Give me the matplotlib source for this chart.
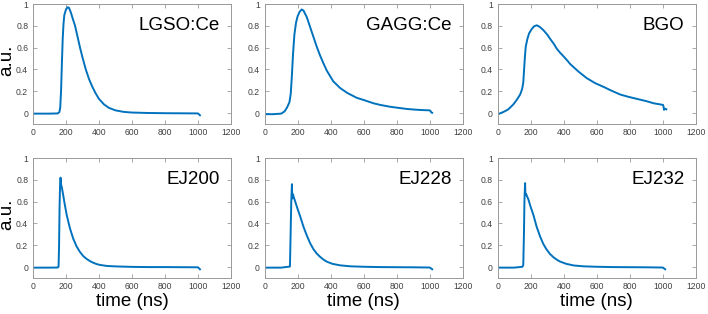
import matplotlib.pyplot as plt

plt.rcParams['font.family'] = ['Liberation Sans', 'DejaVu Sans']

# pulse shapes (time in ns, amplitude in a.u.)
lgso_t = [0, 50, 100, 150, 160, 165, 170, 175, 180, 185, 190, 200, 210, 218, 230, 240, 255, 270, 285,
          300, 320, 340, 360, 380, 400, 430, 460, 500, 550, 600, 700, 800, 900, 1000, 1005, 1012]
lgso_v = [-0.005, -0.005, -0.005, -0.003, 0.01, 0.05, 0.2, 0.45, 0.68, 0.82, 0.9, 0.95, 0.97, 0.965, 0.92,
          0.87, 0.8, 0.7, 0.6, 0.51, 0.4, 0.31, 0.24, 0.18, 0.13, 0.08, 0.048, 0.025, 0.011, 0.005, 0.001,
          -0.001, -0.002, -0.003, -0.01, -0.02]

gagg_t = [0, 50, 100, 120, 135, 150, 158, 165, 172, 180, 190, 200, 212, 224, 235, 255, 275, 295, 315,
          335, 355, 376, 396, 416, 437, 457, 500, 558, 600, 659, 700, 760, 800, 861, 900, 950, 1000,
          1005, 1010, 1015]
gagg_v = [-0.01, -0.01, -0.005, 0.015, 0.05, 0.1, 0.18, 0.35, 0.55, 0.72, 0.83, 0.89, 0.93, 0.95, 0.94,
          0.88, 0.79, 0.7, 0.61, 0.53, 0.46, 0.39, 0.34, 0.29, 0.26, 0.23, 0.185, 0.14, 0.12, 0.09, 0.075,
          0.058, 0.05, 0.038, 0.033, 0.028, 0.025, 0.018, 0.005, 0.003]

bgo_t = [0, 10, 34, 60, 75, 95, 115, 136, 148, 155, 160, 165, 170, 180, 190, 206, 220, 237, 255, 277,
         300, 318, 340, 358, 380, 399, 420, 439, 490, 540, 590, 642, 690, 743, 790, 844, 900, 945, 1002,
         1005, 1008, 1015, 1022]
bgo_v = [-0.01, -0.005, 0.01, 0.03, 0.05, 0.08, 0.12, 0.17, 0.22, 0.28, 0.4, 0.52, 0.61, 0.68, 0.73,
         0.77, 0.795, 0.805, 0.79, 0.76, 0.72, 0.68, 0.635, 0.59, 0.55, 0.52, 0.485, 0.45, 0.38, 0.32,
         0.275, 0.24, 0.205, 0.17, 0.15, 0.13, 0.11, 0.09, 0.075, 0.06, 0.03, 0.04, 0.035]

ej200_t = [0, 100, 150, 155, 158, 161, 164, 167, 170, 176, 183, 193, 204, 215, 225, 244, 264, 284, 305,
           325, 345, 365, 385, 405, 450, 506, 600, 700, 800, 900, 1000, 1005, 1012]
ej200_v = [-0.005, -0.005, -0.004, 0.005, 0.2, 0.55, 0.75, 0.82, 0.76, 0.72, 0.66, 0.57, 0.48, 0.41,
           0.35, 0.26, 0.19, 0.14, 0.1, 0.075, 0.055, 0.04, 0.028, 0.02, 0.01, 0.006, 0.002, 0.0, 0.0,
           -0.001, -0.002, -0.01, -0.02]

ej228_t = [0, 100, 153, 157, 161, 165, 167, 170, 185, 200, 214, 235, 255, 275, 295, 315, 335, 355, 376,
           410, 457, 520, 600, 700, 800, 900, 1000, 1008, 1015]
ej228_v = [-0.005, -0.005, 0.005, 0.3, 0.6, 0.76, 0.63, 0.67, 0.6, 0.53, 0.47, 0.37, 0.29, 0.22, 0.165,
           0.125, 0.095, 0.07, 0.05, 0.03, 0.016, 0.007, 0.003, 0.0, -0.001, -0.002, -0.004, -0.012, -0.02]

ej232_t = [0, 100, 150, 155, 159, 162, 166, 168, 172, 186, 200, 216, 236, 257, 277, 297, 317, 338, 358,
           379, 415, 460, 520, 600, 700, 800, 900, 1000, 1008, 1015]
ej232_v = [-0.005, -0.005, 0.003, 0.02, 0.3, 0.6, 0.77, 0.66, 0.67, 0.62, 0.55, 0.48, 0.37, 0.28, 0.21,
           0.16, 0.12, 0.09, 0.068, 0.05, 0.03, 0.015, 0.007, 0.003, 0.0, -0.001, -0.002, -0.004, -0.012, -0.02]

names = ['LGSO:Ce', 'GAGG:Ce', 'BGO', 'EJ200', 'EJ228', 'EJ232']
times = [lgso_t, gagg_t, bgo_t, ej200_t, ej228_t, ej232_t]
values = [lgso_v, gagg_v, bgo_v, ej200_v, ej228_v, ej232_v]

W, H = 708, 314
fig = plt.figure(figsize=(W / 100, H / 100), dpi=100)

lefts = [33, 264.7, 497.7]
tops = [4, 158]
ax_w, ax_h = 198, 120

for i in range(6):
    r, c = divmod(i, 3)
    ax = fig.add_axes([lefts[c] / W, 1 - (tops[r] + ax_h) / H, ax_w / W, ax_h / H])
    ax.plot(times[i], values[i], color='#0072BD', lw=1.4)
    ax.set_xlim(0, 1200)
    ax.set_ylim(-0.1, 1)
    ax.set_xticks(range(0, 1201, 200))
    ax.set_yticks([0, 0.2, 0.4, 0.6, 0.8, 1])
    ax.set_yticklabels(['0', '0.2', '0.4', '0.6', '0.8', '1'])
    ax.tick_params(direction='in', top=True, right=True, length=3, width=0.6,
                   labelsize=6.2, colors='#999999', labelcolor='#404040')
    ax.tick_params(axis='x', pad=3)
    ax.tick_params(axis='y', pad=3.5)
    for s in ax.spines.values():
        s.set_color('#999999')
        s.set_linewidth(0.7)
    ax.text(0.944, 0.825, names[i], transform=ax.transAxes, ha='right', va='center', fontsize=13.5)
    if c == 0:
        fig.text(7 / W, 1 - (tops[r] + 56) / H, 'a.u.', rotation=90, ha='center', va='center', fontsize=13.5)
    if r == 1:
        fig.text((lefts[c] + ax_w / 2) / W, 1 - 306 / H, 'time (ns)', ha='center', va='baseline',
                 fontsize=13.5)

fig.savefig('out.png', dpi=100)
